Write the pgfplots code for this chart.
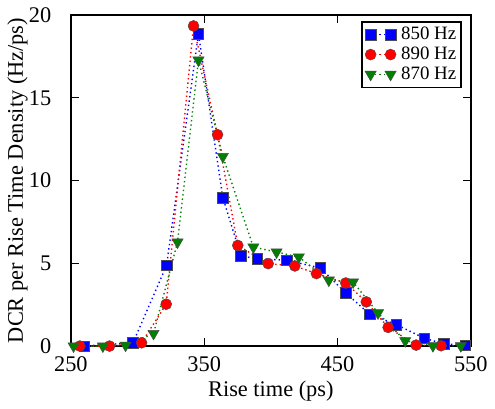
\documentclass[border=0pt]{standalone}
\usepackage{fontspec}
\setmainfont{Liberation Serif}
\usepackage{pgfplots}
\pgfplotsset{compat=1.18}
\definecolor{mblue}{RGB}{0,0,255}
\definecolor{mred}{RGB}{255,0,0}
\definecolor{mgreen}{RGB}{0,128,0}
\begin{document}
\fontsize{22.5}{26}\selectfont
\begin{tikzpicture}
\begin{axis}[
  scale only axis,
  width=401bp, height=332bp,
  xmin=250, xmax=550, ymin=0, ymax=20,
  xtick={250,350,450,550}, ytick={0,5,10,15,20},
  tick align=inside, major tick length=8bp,
  minor tick num=0,
  axis line style={line width=1.6bp},
  tick style={line width=1bp, black},
  /pgf/number format/assume math mode=true,
  /pgf/number format/1000 sep={},
  ticklabel style={font=\fontsize{22.5}{26}\selectfont},
  xticklabel style={yshift=-3bp},
  yticklabel style={xshift=-12bp},
  xlabel={Rise time (ps)},
  ylabel={DCR per Rise Time Density (Hz/ps)},
  label style={font=\fontsize{22.5}{26}\selectfont},
  xlabel style={yshift=6bp},
  ylabel style={yshift=-14bp},
  legend cell align=left,
  legend style={at={(rel axis cs:0.978,0.982)}, anchor=north east,
    draw=black, line width=1.6bp, font=\fontsize{19}{22}\selectfont,
    inner xsep=3bp, inner ysep=3bp, row sep=0bp, column sep=3bp},
  legend image code/.code={\draw[#1] plot coordinates {(0bp,0bp) (20bp,0bp)};},
  every axis plot/.append style={line width=1.4bp, dash pattern=on 1.4bp off 3bp},
  clip=false,
]
\addplot[mblue, mark=square*, mark size=5.3bp, mark options={solid, fill=mblue, draw=black!70, line width=0.5bp}] coordinates {
(260,0) (296.6,0.2) (321.8,4.88) (345.7,18.87) (364,8.96) (377.6,5.44) (389.9,5.28)
(411.8,5.18) (437.2,4.72) (456.2,3.21) (474.1,1.93) (494.1,1.3) (515,0.48) (529.7,0.14) (546,0.05)};
\addlegendentry{850 Hz}
\addplot[mred, mark=*, mark size=5.5bp, mark options={solid, fill=mred, draw=black!70, line width=0.5bp}] coordinates {
(256.7,0) (279,0) (303,0.2) (321.5,2.53) (342,19.34) (360,12.77) (375.2,6.08) (398,4.98)
(418,4.84) (434.2,4.38) (456.2,3.81) (471.6,2.67) (488,1.13) (509,0.06) (527.7,0.02)};
\addlegendentry{890 Hz}
\addplot[mgreen, mark=triangle*, mark size=6.5bp, mark options={solid, fill=mgreen, draw=black!70, line width=0.5bp, rotate=180}] coordinates {
(252,0) (274,0) (291,0.05) (312,0.76) (330,6.28) (345.7,17.27) (364,11.45) (386.9,5.98)
(404.3,5.68) (421,5.38) (443.5,3.98) (461.7,3.87) (480.4,2.0) (500.8,0.32) (521.6,0.02) (542.5,0.02)};
\addlegendentry{870 Hz}
\end{axis}
\end{tikzpicture}
\end{document}
